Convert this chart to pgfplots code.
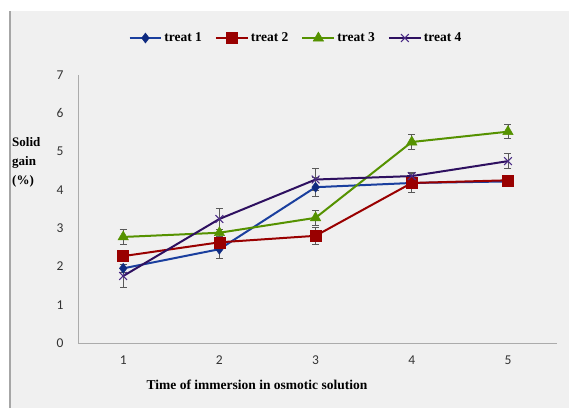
\documentclass[border=0pt]{standalone}
\usepackage{pgfplots}
\pgfplotsset{compat=1.18}
\usepackage{fontspec}
\setmainfont{Liberation Serif}
\newfontfamily\tickfont{Carlito}
\definecolor{bgc}{HTML}{F0F0F0}
\definecolor{c1}{HTML}{1A3F9E}
\definecolor{m1}{HTML}{0E2A80}
\definecolor{c2}{HTML}{990000}
\definecolor{c3}{HTML}{559200}
\definecolor{c4}{HTML}{2E1060}
\definecolor{m4}{HTML}{4A2A85}
\definecolor{axc}{HTML}{ABABAB}
\begin{document}
\begin{tikzpicture}
\useasboundingbox (0pt,0pt) rectangle (569pt,408pt);
\fill[white] (0pt,0pt) rectangle (569pt,408pt);
\fill[bgc] (9pt,0pt) rectangle (569pt,397pt);
\draw[color=black!35, line width=1.5pt] (9.75pt,0pt) -- (9.75pt,397pt);
\begin{axis}[
  at={(78pt,65pt)}, anchor=south west,
  scale only axis, width=479pt, height=268pt,
  xmin=0.53, xmax=5.51, ymin=0, ymax=7,
  axis x line=bottom, axis y line=left,
  axis line style={axc, line width=0.8pt, -},
  xtick={1,2,3,4,5}, ytick={0,1,...,7},
  major tick length=0pt,
  /pgf/number format/assume math mode=true,
  ticklabel style={font=\tickfont\fontsize{13.5}{13.5}\selectfont, text=black!80},
  yticklabel style={xshift=-11pt},
  xticklabel style={yshift=-9pt},
  legend columns=4,
  legend style={at={(0.455,1.138)}, anchor=center, draw=none, fill=none,
    font=\bfseries\fontsize{13.5}{15}\selectfont,
    /tikz/every even column/.append style={column sep=11pt}},
  legend image code/.code={\draw[mark repeat=2,mark phase=2,#1] plot coordinates {(0cm,0cm) (0.56cm,0cm) (1.12cm,0cm)};},
  every axis plot/.append style={line width=2pt},
  error bars/error bar style={black!65, line width=0.8pt},
  error bars/error mark options={rotate=90, mark size=3.5pt, black!65, line width=0.8pt},
]
\addplot[c1, mark=diamond*, mark size=5pt, mark options={fill=m1, draw=m1, line width=0.5pt},
  error bars/.cd, y dir=both, y explicit] coordinates {
  (1,1.95) +- (0,0.1)
  (2,2.45) +- (0,0.25)
  (3,4.07) +- (0,0.25)
  (4,4.18) +- (0,0.1)
  (5,4.22) +- (0,0.1)
};
\addlegendentry{treat 1}
\addplot[c2, mark=square*, mark size=5.5pt, mark options={fill=c2, draw=c2, line width=0.5pt},
  error bars/.cd, y dir=both, y explicit] coordinates {
  (1,2.27) +- (0,0.1)
  (2,2.63) +- (0,0.1)
  (3,2.80) +- (0,0.22)
  (4,4.18) +- (0,0.25)
  (5,4.25) +- (0,0.1)
};
\addlegendentry{treat 2}
\addplot[c3, mark=triangle*, mark size=6pt, mark options={fill=c3, draw=c3, line width=0.5pt},
  error bars/.cd, y dir=both, y explicit] coordinates {
  (1,2.77) +- (0,0.2)
  (2,2.88) +- (0,0.1)
  (3,3.27) +- (0,0.2)
  (4,5.25) +- (0,0.2)
  (5,5.52) +- (0,0.18)
};
\addlegendentry{treat 3}
\addplot[c4, mark=x, mark size=5.5pt, mark options={draw=m4, line width=1.1pt},
  error bars/.cd, y dir=both, y explicit] coordinates {
  (1,1.75) +- (0,0.3)
  (2,3.24) +- (0,0.28)
  (3,4.27) +- (0,0.28)
  (4,4.36) +- (0,0.1)
  (5,4.75) +- (0,0.2)
};
\addlegendentry{treat 4}
\end{axis}
\node[anchor=west, align=left, font=\bfseries\fontsize{13}{19}\selectfont, inner sep=0pt] at (12pt,246pt) {Solid\\gain\\(\%)};
\node[font=\bfseries\fontsize{13.5}{15}\selectfont, inner sep=0pt] at (257pt,23pt) {Time of immersion in osmotic solution};
\end{tikzpicture}
\end{document}
